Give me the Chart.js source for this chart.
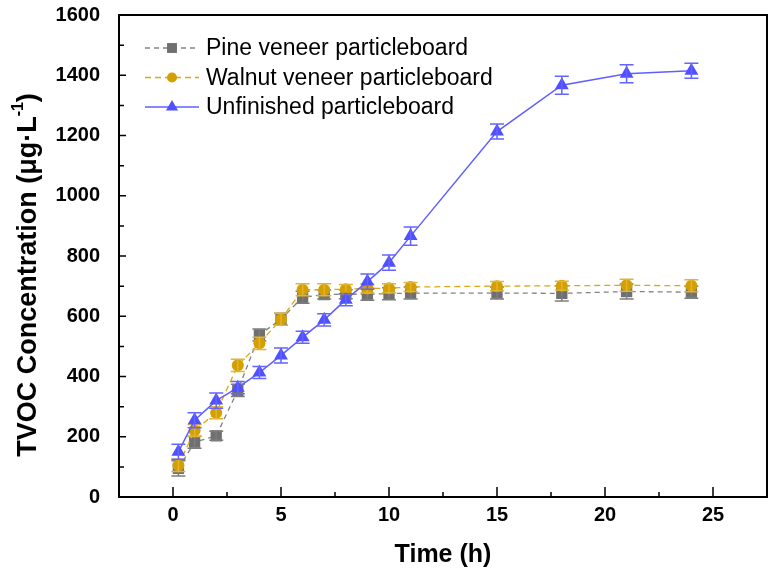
<!DOCTYPE html>
<html>
<head>
<meta charset="utf-8">
<script src="https://cdn.jsdelivr.net/npm/chart.js@4.4.0/dist/chart.umd.min.js"></script>
<style>
  html, body { margin: 0; padding: 0; background: #fff; overflow: hidden; }
  #wrap { width: 775px; height: 571px; }
</style>
</head>
<body>
<div id="wrap"><canvas id="tvocChart" width="775" height="571"></canvas></div>
<script>
// Data
const timeHours = [0.25, 1, 2, 3, 4, 5, 6, 7, 8, 9, 10, 11, 15, 18, 21, 24];

const pineValues = [95, 182, 203, 354, 538, 590, 663, 672, 673, 673, 675, 677, 677, 676, 682, 680];
const pineErrors = [25, 20, 15, 20, 20, 20, 20, 15, 15, 20, 20, 20, 20, 25, 25, 20];

const walnutValues = [105, 221, 280, 437, 510, 590, 688, 688, 690, 692, 693, 697, 700, 701, 703, 701];
const walnutErrors = [20, 20, 20, 20, 20, 20, 20, 20, 15, 15, 15, 15, 15, 15, 20, 20];

const unfinishedValues = [150, 255, 320, 363, 413, 470, 530, 588, 655, 715, 778, 866, 1213, 1367, 1405, 1415];
const unfinishedErrors = [25, 25, 25, 20, 20, 25, 20, 20, 20, 25, 25, 30, 25, 30, 30, 25];

const seriesLabels = ["Pine veneer particleboard", "Walnut veneer particleboard", "Unfinished particleboard"];

const xTicks = [0, 5, 10, 15, 20, 25];
const xMinorTicks = [2.5, 7.5, 12.5, 17.5, 22.5];
const yTicks = [0, 200, 400, 600, 800, 1000, 1200, 1400, 1600];
const yMinorTicks = [100, 300, 500, 700, 900, 1100, 1300, 1500];

// Colours
const GRAY = "rgb(112,112,112)";
const GRAY_LINE = "rgb(130,130,130)";
const GOLD = "rgb(212,160,0)";
const GOLD_LINE = "rgb(218,168,20)";
const BLUE = "rgb(80,80,255)";
const BLUE_LINE = "rgb(95,95,255)";

const FONT = "'Liberation Sans', Arial, sans-serif";

// Error bars drawn after each dataset
const errorBars = {
  id: "errorBars",
  afterDatasetDraw(chart, args) {
    const ds = chart.data.datasets[args.index];
    if (!ds.errors) return;
    const ctx = chart.ctx;
    const y = chart.scales.y;
    ctx.save();
    ctx.strokeStyle = ds.errorColor;
    ctx.lineWidth = 1.5;
    args.meta.data.forEach((pt, i) => {
      const v = ds.data[i].y;
      const e = ds.errors[i];
      const top = y.getPixelForValue(v + e);
      const bot = y.getPixelForValue(v - e);
      ctx.beginPath();
      ctx.moveTo(pt.x, top); ctx.lineTo(pt.x, bot);
      ctx.moveTo(pt.x - 7, top); ctx.lineTo(pt.x + 7, top);
      ctx.moveTo(pt.x - 7, bot); ctx.lineTo(pt.x + 7, bot);
      ctx.stroke();
    });
    ctx.restore();
  }
};

// Frame and inward tick marks
const frameTicks = {
  id: "frameTicks",
  afterDraw(chart) {
    const { ctx, chartArea: a, scales: { x, y } } = chart;
    ctx.save();
    ctx.strokeStyle = "#000";
    ctx.lineWidth = 2;
    ctx.strokeRect(a.left, a.top, a.right - a.left, a.bottom - a.top);
    ctx.lineWidth = 1.5;
    ctx.beginPath();
    xTicks.forEach(t => { const px = x.getPixelForValue(t); ctx.moveTo(px, a.bottom); ctx.lineTo(px, a.bottom - 10); });
    xMinorTicks.forEach(t => { const px = x.getPixelForValue(t); ctx.moveTo(px, a.bottom); ctx.lineTo(px, a.bottom - 5); });
    yTicks.forEach(t => { const py = y.getPixelForValue(t); ctx.moveTo(a.left, py); ctx.lineTo(a.left + 7, py); });
    yMinorTicks.forEach(t => { const py = y.getPixelForValue(t); ctx.moveTo(a.left, py); ctx.lineTo(a.left + 5, py); });
    ctx.stroke();
    ctx.restore();
  }
};

// Legend in the top-left corner of the plot
const insideLegend = {
  id: "insideLegend",
  afterDraw(chart) {
    const ctx = chart.ctx;
    ctx.save();
    chart.data.datasets.forEach((ds, i) => {
      const rowY = 48 + i * 29.5;
      ctx.strokeStyle = ds.borderColor;
      ctx.lineWidth = ds.borderWidth;
      ctx.setLineDash(ds.borderDash || []);
      ctx.beginPath();
      ctx.moveTo(145, rowY); ctx.lineTo(199, rowY);
      ctx.stroke();
      ctx.setLineDash([]);
      ctx.fillStyle = ds.pointBackgroundColor;
      ctx.strokeStyle = ds.pointBorderColor;
      Chart.helpers.drawPoint(ctx, { pointStyle: ds.pointStyle, radius: ds.pointRadius - 1, rotation: 0, borderWidth: 0 }, 172, rowY);
      ctx.fillStyle = "#000";
      ctx.font = "23px " + FONT;
      ctx.textAlign = "left";
      ctx.textBaseline = "middle";
      ctx.fillText(ds.label, 206, rowY + 1);
    });
    ctx.restore();
  }
};

// Y axis title with superscript
const yTitle = {
  id: "yTitle",
  afterDraw(chart) {
    const ctx = chart.ctx;
    const main = "TVOC Concentration (\u03bcg\u00b7L";
    const sup = "-1";
    const end = ")";
    ctx.save();
    ctx.translate(29, 275);
    ctx.rotate(-Math.PI / 2);
    ctx.fillStyle = "#000";
    ctx.textBaseline = "middle";
    ctx.textAlign = "left";
    const bigFont = "bold 27px " + FONT;
    const smallFont = "bold 16px " + FONT;
    ctx.font = bigFont; const w1 = ctx.measureText(main).width; const w3 = ctx.measureText(end).width;
    ctx.font = smallFont; const w2 = ctx.measureText(sup).width;
    let xs = -(w1 + w2 + w3) / 2;
    ctx.font = bigFont; ctx.fillText(main, xs, 0); xs += w1;
    ctx.font = smallFont; ctx.fillText(sup, xs, -10); xs += w2;
    ctx.font = bigFont; ctx.fillText(end, xs, 0);
    ctx.restore();
  }
};

const toPoints = vals => vals.map((v, i) => ({ x: timeHours[i], y: v }));

new Chart(document.getElementById("tvocChart"), {
  type: "line",
  data: {
    datasets: [
      {
        label: seriesLabels[0], data: toPoints(pineValues), errors: pineErrors, errorColor: "rgb(125,125,125)",
        borderColor: GRAY_LINE, borderWidth: 1.3, borderDash: [5, 4],
        pointStyle: "rect", pointRadius: 8, pointBackgroundColor: GRAY, pointBorderColor: GRAY, pointBorderWidth: 0,
        order: 3
      },
      {
        label: seriesLabels[1], data: toPoints(walnutValues), errors: walnutErrors, errorColor: "rgb(225,180,50)",
        borderColor: GOLD_LINE, borderWidth: 1.3, borderDash: [6, 4],
        pointStyle: "circle", pointRadius: 6, pointBackgroundColor: GOLD, pointBorderColor: GOLD, pointBorderWidth: 0,
        order: 2
      },
      {
        label: seriesLabels[2], data: toPoints(unfinishedValues), errors: unfinishedErrors, errorColor: "rgb(100,100,255)",
        borderColor: BLUE_LINE, borderWidth: 1.5,
        pointStyle: "triangle", pointRadius: 8, pointBackgroundColor: BLUE, pointBorderColor: BLUE, pointBorderWidth: 0,
        order: 1
      }
    ]
  },
  options: {
    responsive: false,
    animation: false,
    devicePixelRatio: 1,
    layout: { padding: { top: 15, left: 0, right: 0, bottom: 0 } },
    plugins: { legend: { display: false }, tooltip: { enabled: false } },
    elements: { line: { tension: 0 } },
    scales: {
      x: {
        type: "linear", min: -2.5, max: 27.5,
        grid: { display: false, drawTicks: false }, border: { display: false },
        afterBuildTicks: s => { s.ticks = xTicks.map(v => ({ value: v })); },
        afterFit: s => { s.height = 74; s.paddingLeft = 0; s.paddingRight = 0; },
        ticks: { color: "#000", padding: 6, font: { family: FONT, size: 20, weight: "bold" } },
        title: { display: true, text: "Time (h)", color: "#000", padding: { top: 0, bottom: 1 }, font: { family: FONT, size: 25, weight: "bold" } }
      },
      y: {
        type: "linear", min: 0, max: 1600,
        grid: { display: false, drawTicks: false }, border: { display: false },
        afterBuildTicks: s => { s.ticks = yTicks.map(v => ({ value: v })); },
        afterFit: s => { s.width = 119; s.paddingTop = 0; s.paddingBottom = 0; },
        ticks: { color: "#000", padding: 19, callback: v => String(v), font: { family: FONT, size: 20, weight: "bold" } }
      }
    }
  },
  plugins: [errorBars, frameTicks, insideLegend, yTitle]
});
</script>
</body>
</html>
